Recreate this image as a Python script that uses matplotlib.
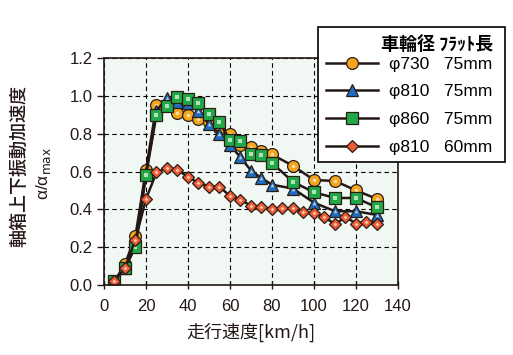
#!/usr/bin/env python3
'''Axle box vertical vibration acceleration vs running speed'''
import matplotlib
matplotlib.use('Agg')
import matplotlib.pyplot as plt

plt.rcParams['font.family'] = ['Liberation Sans', 'Noto Sans CJK JP', 'DejaVu Sans']

# speeds (km/h)
speed_75 = [5, 10, 15, 20, 25, 30, 35, 40, 45, 50, 55, 60, 65, 70, 75, 80,
            90, 100, 110, 120, 130]
speed_60 = [5, 10, 15, 20, 25, 30, 35, 40, 45, 50, 55, 60, 65, 70, 75, 80,
            85, 90, 95, 100, 105, 110, 115, 120, 125, 130]

# normalised acceleration a/a_max
acc_730_75 = [0.02, 0.11, 0.26, 0.61, 0.95, 0.95, 0.91, 0.90, 0.88, 0.86, 0.83,
              0.80, 0.74, 0.73, 0.71, 0.69, 0.63, 0.555, 0.55, 0.50, 0.455]
acc_810_75 = [0.02, 0.09, 0.22, 0.59, 0.92, 0.99, 0.97, 0.96, 0.92, 0.85, 0.80,
              0.74, 0.675, 0.605, 0.565, 0.53, 0.51, 0.435, 0.39, 0.39, 0.37]
acc_860_75 = [0.02, 0.09, 0.20, 0.58, 0.90, 0.945, 0.995, 0.985, 0.96, 0.905, 0.86,
              0.765, 0.76, 0.69, 0.685, 0.645, 0.545, 0.49, 0.46, 0.46, 0.41]
acc_810_60 = [0.02, 0.09, 0.24, 0.455, 0.595, 0.62, 0.61, 0.57, 0.54, 0.52, 0.52,
              0.47, 0.45, 0.42, 0.41, 0.40, 0.405, 0.405, 0.385, 0.38, 0.36,
              0.32, 0.36, 0.325, 0.335, 0.325]

labels = ['φ730   75mm ', 'φ810   75mm ', 'φ860   75mm ', 'φ810   60mm ']
line_col = '#231815'

fig = plt.figure(figsize=(5.13, 3.55), dpi=100)
ax = fig.add_axes([0.2027, 0.1972, 0.5731, 0.6394])
ax.set_facecolor('#f1f8f4')

series = [
    (speed_75, acc_730_75, 'o', '#f5a41e', 8.5),
    (speed_75, acc_810_75, '^', '#1f6cc0', 8.5),
    (speed_75, acc_860_75, 's', '#21a848', 8.0),
    (speed_60, acc_810_60, 'D', '#ee5a36', 6.5),
]
handles = []
for (x, y, m, c, ms), lab in zip(series, labels):
    h, = ax.plot(x, y, color=line_col, lw=1.8, marker=m, ms=ms,
                 markerfacecolor=c, markeredgecolor='#2a1e14', markeredgewidth=0.9,
                 label=lab)
    # small highlight in the centre of each marker
    ax.plot(x, y, ls='none', marker=m, ms=ms * 0.3, markerfacecolor='#f4fbe8',
            markeredgewidth=0, alpha=0.7)
    handles.append(h)

ax.set_xlim(0, 140)
ax.set_ylim(0, 1.2)
ax.set_xticks(range(0, 141, 20))
ax.set_yticks([0.0, 0.2, 0.4, 0.6, 0.8, 1.0, 1.2])
ax.set_yticklabels([f'{v:.1f}' for v in [0.0, 0.2, 0.4, 0.6, 0.8, 1.0, 1.2]])
ax.tick_params(axis='x', direction='inout', length=6, width=1, labelsize=12,
               colors='#231815', pad=7)
ax.tick_params(axis='y', direction='out', length=5, width=1, labelsize=12,
               colors='#231815', pad=3)
ax.grid(True, color='black', ls=(0, (4, 3)), lw=0.8)
for s in ax.spines.values():
    s.set_color('#231815')
    s.set_linewidth(1.2)

# axis labels
ax.set_xlabel('走行速度[km/h]', fontsize=13, family=['Noto Sans CJK JP'],
              color='#231815', labelpad=6)
fig.text(0.037, 0.532, '軸箱上下振動加速度', rotation=90, ha='center', va='center',
         fontsize=13, family=['Noto Sans CJK JP'], color='#231815', fontweight='medium')
fig.text(0.085, 0.512, r'α/α$_{\mathrm{max}}$', rotation=90, ha='center', va='center',
         fontsize=12.5, color='#231815')

leg = ax.legend(handles=handles, title='車輪径 ﾌﾗｯﾄ長 ', loc='upper right',
                bbox_to_anchor=(0.984, 0.924), bbox_transform=fig.transFigure,
                fontsize=12.5, handlelength=3.0, handletextpad=0.6, labelspacing=0.72,
                borderpad=0.45, fancybox=False, framealpha=1, edgecolor='black',
                borderaxespad=0)
leg.get_title().set_fontfamily(['Noto Sans CJK JP'])
leg.get_title().set_fontsize(13)
leg.get_title().set_fontweight('bold')
leg._legend_box.align = 'right'
leg._legend_box.sep = 2  # tighter gap between header and entries
leg.get_frame().set_linewidth(1.2)

plt.savefig('out.png', dpi=100)
